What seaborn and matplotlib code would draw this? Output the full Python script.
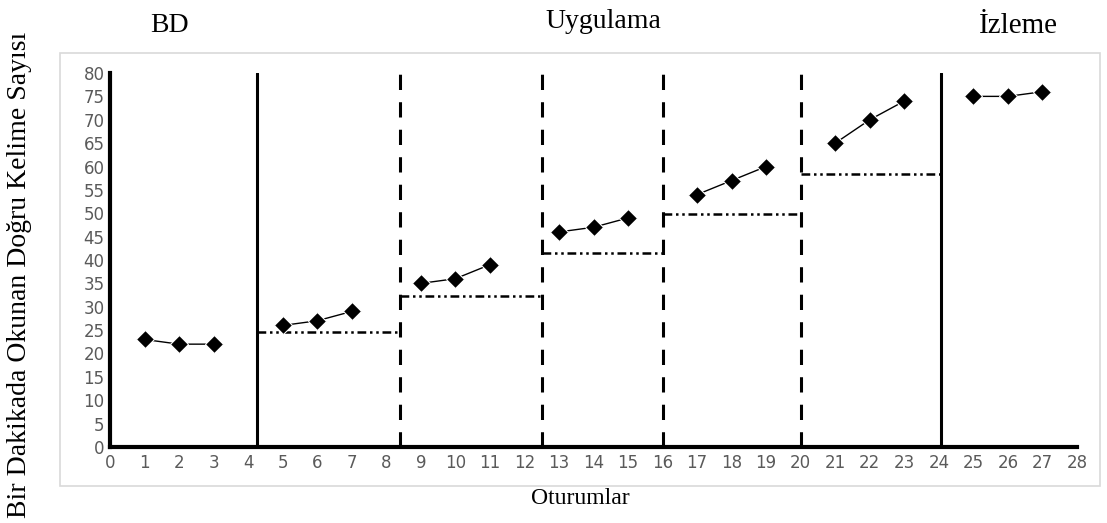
import pandas as pd
import matplotlib.pyplot as plt
import seaborn as sns
from matplotlib.patches import Rectangle

# -----------------------------
# Data
# -----------------------------
sessions = [1, 2, 3, 5, 6, 7, 9, 10, 11, 13, 14, 15, 17, 18, 19, 21, 22, 23, 25, 26, 27]
scores = [23, 22, 22, 26, 27, 29, 35, 36, 39, 46, 47, 49, 54, 57, 60, 65, 70, 74, 75, 75, 76]
phases = ['BD'] * 3 + ['U1'] * 3 + ['U2'] * 3 + ['U3'] * 3 + ['U4'] * 3 + ['U5'] * 3 + ['IZ'] * 3

# phase change lines (solid = phase, dashed = sub-phase)
solid_lines = [4.25, 24.05]
dashed_lines = [8.4, 12.5, 16, 20]

# criterion levels per sub-phase
crit_start = [4.25, 8.4, 12.5, 16, 20]
crit_end = [8.4, 12.5, 16, 20, 24.05]
crit_level = [24.5, 32.3, 41.6, 49.8, 58.4]

df = pd.DataFrame({'Oturum': sessions, 'Skor': scores, 'Evre': phases})

# -----------------------------
# Plot
# -----------------------------
sns.set_style('white')
plt.rcParams['font.family'] = ['DejaVu Sans']

fig = plt.figure(figsize=(11.07, 5.23), dpi=100)
fig.patches.append(Rectangle((60 / 1107, 1 - 486 / 523), 1040 / 1107, 433 / 523,
                             transform=fig.transFigure, fill=False,
                             edgecolor='#d9d9d9', lw=1.2, zorder=0))
ax = fig.add_axes([110 / 1107, 1 - 447 / 523, 967 / 1107, 374 / 523])

for x in solid_lines:
    ax.plot([x, x], [0, 80], color='black', lw=2.2, zorder=2)
for x in dashed_lines:
    ax.plot([x, x], [0, 80], color='black', lw=2.2, dashes=(5, 4), zorder=2)
for x0, x1, y in zip(crit_start, crit_end, crit_level):
    ax.plot([x0, x1], [y, y], color='black', lw=1.8, dashes=(3.5, 1.5, 1, 1.5, 1, 1.5), zorder=2)

sns.lineplot(data=df, x='Oturum', y='Skor', units='Evre', estimator=None,
             color='black', lw=1, marker='D', markersize=9.5, ax=ax, zorder=3)

ax.set_xlim(0, 28)
ax.set_ylim(0, 80)
ax.set_xticks(range(0, 29))
ax.set_yticks(range(0, 81, 5))
ax.tick_params(axis='both', length=0, labelsize=12, labelcolor='#5a5a5a', pad=5)
ax.tick_params(axis='y', pad=4)
for s in ['top', 'right']:
    ax.spines[s].set_visible(False)
for s in ['left', 'bottom']:
    ax.spines[s].set_linewidth(3)
    ax.spines[s].set_color('black')
ax.set_xlabel('')
ax.set_ylabel('')

serif = ['Liberation Serif', 'DejaVu Serif']
fig.text(170 / 1107, 1 - 26 / 523, 'BD', family=serif, fontsize=20, color='black', ha='center', va='center')
fig.text(603 / 1107, 1 - 22 / 523, 'Uygulama', family=serif, fontsize=20, color='black', ha='center', va='center')
fig.text(1018 / 1107, 1 - 26 / 523, 'İzleme', family=serif, fontsize=21, color='black', ha='center', va='center')
fig.text(580 / 1107, 1 - 498 / 523, 'Oturumlar', family=serif, fontsize=17, color='black', ha='center', va='center')
fig.text(20 / 1107, 1 - 275 / 523, 'Bir Dakikada Okunan Doğru Kelime Sayısı', family=serif,
         fontsize=20, color='black', ha='center', va='center', rotation=90)

fig.savefig('out.png', dpi=100)
